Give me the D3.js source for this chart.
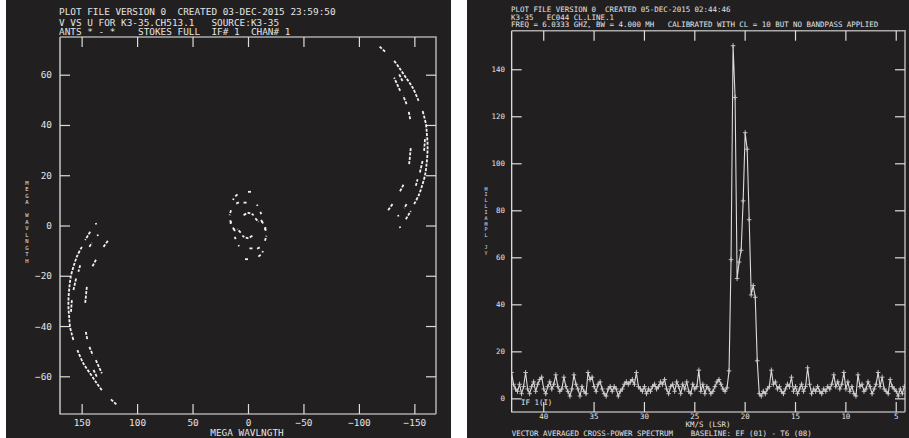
<!DOCTYPE html>
<html><head><meta charset="utf-8">
<script src="https://cdn.jsdelivr.net/npm/d3@7"></script>
<style>
body{margin:0;background:#fff;}
svg{display:block;}
text{font-family:"DejaVu Sans Mono",monospace;fill:#e4e4e4;}
</style></head><body>
<script>
// ---- UV plot data
var uvHeader = ["PLOT FILE VERSION 0  CREATED 03-DEC-2015 23:59:50",
                "V VS U FOR K3-35.CH513.1   SOURCE:K3-35",
                "ANTS * - *    STOKES FULL  IF# 1  CHAN# 1"];
var uvTicksU = [150, 100, 50, 0, -50, -100, -150];
var uvTicksV = [-60, -40, -20, 0, 20, 40, 60];
var uvLabel = "MEGA WAVLNGTH";
// track pieces (u, v in mega-wavelengths); conjugates are drawn too
var uvTracks = [
  [[142.3,-2.5],[146.8,-5.8]],
  [[149.8,-8.5],[154.1,-12.2],[157.4,-16.5],[159.7,-20.2],[161.0,-24.4],[161.7,-28.1],[161.9,-32.4],[161.3,-36.1],[160.4,-40.4],[157.4,-45.6]],
  [[153.8,-49.6],[148.4,-54.9],[142.3,-58.9],[136.3,-62.8],[131.8,-65.5]],
  [[123.6,-69.2],[118.2,-71.4]],
  [[137.2,1.0],[136.8,0.4]],
  [[135.7,-3.6],[135.3,-4.2]],
  [[143.0,-8.5],[140.8,-6.9]],
  [[130.3,-8.5],[125.8,-5.8]],
  [[140.2,-16.2],[136.9,-13.5]],
  [[151.3,-15.8],[152.9,-18.4]],
  [[155.0,-21.1],[157.4,-25.7]],
  [[158.8,-29.7],[159.7,-35.0]],
  [[145.3,-24.4],[146.8,-31.0]],
  [[146.2,-42.3],[144.8,-45.6]],
  [[143.0,-48.3],[139.9,-51.6]],
  [[137.2,-53.6],[131.8,-58.8]],
  [[139.3,-57.5],[136.3,-60.2]],
  // short baselines
  [[0.0,13.4],[-3.0,13.4]],
  [[9.4,12.4],[11.5,11.6]],
  [[13.0,10.7],[13.4,10.1]],
  [[10.6,8.7],[7.6,9.4]],
  [[4.0,9.1],[0.9,9.1]],
  [[-8.1,8.3],[-8.6,7.8]],
  [[15.3,6.1],[16.6,4.1]],
  [[-11.1,5.4],[-12.0,4.5]],
  [[4.0,4.1],[-0.5,5.0],[-5.1,4.1]],
  [[16.0,2.1],[15.3,0.8]],
  [[-12.6,1.8],[-13.5,0.8]],
  [[-6.6,2.8],[-9.6,1.4]],
  [[13.0,-1.2],[11.5,-2.5]],
  [[-15.6,-0.6],[-15.6,-1.9]]
];

// ---- spectrum data
var specHeader = ["PLOT FILE VERSION 0  CREATED 05-DEC-2015 02:44:46",
                  "K3-35   EC044 CL.LINE.1",
                  "FREQ = 6.0333 GHZ, BW = 4.000 MH   CALIBRATED WITH CL = 10 BUT NO BANDPASS APPLIED"];
var specFooter = "VECTOR AVERAGED CROSS-POWER SPECTRUM    BASELINE: EF (01) - T6 (08)";
var specTicksX = [40, 35, 30, 25, 20, 15, 10, 5];
var specTicksY = [0, 20, 40, 60, 80, 100, 120, 140];
var specXLabel = "KM/S (LSR)";
var specYLabel = "MILLIAMPL JY";
var chanVel0 = 43.15, chanStep = -0.2;   // km/s of channel 0, channel width
var specAmp = [
  11,6,4,3,6,2,5,11,4,2, 5,7,3,6,8,9,4,2,5,7,
  4,6,10,5,3,4,9,5,3,1, 4,10,6,4,1,5,3,2,11,8,
  9,5,3,6,7,4,2,1,4,5, 3,5,4,1,3,4,6,7,6,7,
  8,6,11,5,4,3,5,2,4,3, 5,6,4,5,7,6,8,4,2,5,
  6,3,7,5,2,6,4,7,3,2, 6,4,5,12,3,6,2,5,4,2,
  3,5,7,8,6,4,3,4.5,11.7,59, 150,128,51,58,63,84,113,106,76,44,
  48,43,16,2,1,3,2,4,5,12, 6,7,4,5,3,2,4,6,5,9,
  3,5,2,4,6,3,5,13,6,2, 4,3,5,3,2,4,3,5,4,6,
  10,5,7,4,6,11,4,7,3,5, 2,1,10,5,6,3,4,7,5,2,
  4,6,11,5,9,4,3,2,8,5, 4,3,1,4,2,5
];

var W = 909, H = 438, bg = "#221f20", fg = "#e4e4e4";
var svg = d3.select("body").append("svg").attr("width", W).attr("height", H);

svg.append("rect").attr("x", 6).attr("y", 0).attr("width", 445).attr("height", H).attr("fill", bg);
svg.append("rect").attr("x", 467).attr("y", 0).attr("width", 442).attr("height", H).attr("fill", bg);

// letters stacked upright, one under the other
function stacked(g, str, x, y0, pitch, size) {
  str.split("").forEach(function(c, i) {
    if (c === " ") return;
    g.append("text").attr("font-size", size).attr("text-anchor", "middle")
      .attr("x", x).attr("y", y0 + i * pitch).text(c);
  });
}

function frame(g, x0, x1, y0, y1) {
  g.append("path").attr("d", "M" + x0 + "," + y0 + "V" + y1 + "H" + x1)
    .attr("stroke", "#eee").attr("fill", "none").attr("stroke-width", 1.2);
  g.append("path").attr("d", "M" + x0 + "," + y0 + "H" + x1 + "V" + y1)
    .attr("stroke", "#aaa").attr("fill", "none").attr("stroke-width", 1.6);
}

function styleAxis(a, size) {
  a.select(".domain").remove();
  a.selectAll("line").attr("stroke", "#ddd").attr("stroke-width", 1.2);
  a.selectAll("text").attr("font-size", size).attr("fill", fg).attr("font-family", null);
}

// ================= left: UV coverage
(function() {
  var g = svg.append("g");
  var fs = 9.4;
  var x = d3.scaleLinear().domain([169.5, -169.5]).range([60, 436]);
  var y = d3.scaleLinear().domain([-75, 75]).range([414, 37]);

  uvHeader.forEach(function(s, i) {
    g.append("text").attr("x", 59).attr("y", [15, 25.5, 35][i]).attr("font-size", fs)
      .attr("xml:space", "preserve").text(s);
  });

  frame(g, 60, 436, 37, 414);

  styleAxis(g.append("g").attr("transform", "translate(0,414)")
    .call(d3.axisBottom(x).tickValues(uvTicksU).tickSize(-10).tickSizeOuter(0).tickPadding(5)), fs);
  styleAxis(g.append("g").attr("transform", "translate(0,37)")
    .call(d3.axisTop(x).tickValues(uvTicksU).tickSize(-10).tickSizeOuter(0).tickFormat("")), fs);
  styleAxis(g.append("g").attr("transform", "translate(60,0)")
    .call(d3.axisLeft(y).tickValues(uvTicksV).tickSize(-10).tickSizeOuter(0).tickPadding(8)), fs);
  styleAxis(g.append("g").attr("transform", "translate(436,0)")
    .call(d3.axisRight(y).tickValues(uvTicksV).tickSize(-10).tickSizeOuter(0).tickFormat("")), fs);

  g.append("text").attr("x", 247).attr("y", 435.5).attr("font-size", fs)
    .attr("text-anchor", "middle").text(uvLabel);
  stacked(g, uvLabel, 27, 184.5, 6.5, 5.6);

  var line = d3.line().x(function(d) { return x(d[0]); }).y(function(d) { return y(d[1]); })
    .curve(d3.curveCatmullRom);
  var all = [];
  uvTracks.forEach(function(t) {
    all.push(t);
    all.push(t.map(function(p) { return [-p[0], -p[1]]; }));
  });
  g.selectAll("path.trk").data(all).enter().append("path").attr("class", "trk")
    .attr("d", line).attr("fill", "none").attr("stroke", "#f2f2f2")
    .attr("stroke-width", 1.8).attr("stroke-dasharray", "3,1.4");
})();

// ================= right: spectrum
(function() {
  var g = svg.append("g");
  var fs = 7.45;
  var x = d3.scaleLinear().domain([43.13, 4.08]).range([511.7, 905]);
  var y = d3.scaleLinear().domain([-5.8, 156.4]).range([412, 30.7]);

  specHeader.forEach(function(s, i) {
    g.append("text").attr("x", 511).attr("y", [12, 19.5, 27.3][i]).attr("font-size", fs)
      .attr("xml:space", "preserve").text(s);
  });

  frame(g, 511.7, 905, 30.7, 412);

  styleAxis(g.append("g").attr("transform", "translate(0,412)")
    .call(d3.axisBottom(x).tickValues(specTicksX).tickSize(-10).tickSizeOuter(0).tickPadding(1.2)), fs);
  styleAxis(g.append("g").attr("transform", "translate(0,30.7)")
    .call(d3.axisTop(x).tickValues(specTicksX).tickSize(-10).tickSizeOuter(0).tickFormat("")), fs);
  styleAxis(g.append("g").attr("transform", "translate(511.7,0)")
    .call(d3.axisLeft(y).tickValues(specTicksY).tickSize(-10).tickSizeOuter(0).tickPadding(6.7)), fs);
  styleAxis(g.append("g").attr("transform", "translate(905,0)")
    .call(d3.axisRight(y).tickValues(specTicksY).tickSize(-10).tickSizeOuter(0).tickFormat("")), fs);

  g.append("text").attr("x", 708).attr("y", 427.2).attr("font-size", fs)
    .attr("text-anchor", "middle").text(specXLabel);
  g.append("text").attr("x", 511.7).attr("y", 435.6).attr("font-size", fs)
    .attr("xml:space", "preserve").text(specFooter);
  g.append("text").attr("x", 521).attr("y", 405).attr("font-size", fs).text("IF 1(I)");
  stacked(g, specYLabel, 486, 190.5, 5.85, 5.0);

  g.append("clipPath").attr("id", "specclip").append("rect")
    .attr("x", 511.7).attr("y", 30.7).attr("width", 905 - 511.7).attr("height", 412 - 30.7);

  var pts = specAmp.map(function(a, i) { return [chanVel0 + i * chanStep, a]; });
  var pg = g.append("g").attr("clip-path", "url(#specclip)");
  pg.append("path").datum(pts)
    .attr("d", d3.line().x(function(d) { return x(d[0]); }).y(function(d) { return y(d[1]); }))
    .attr("fill", "none").attr("stroke", "#dcdcdc").attr("stroke-width", 1.1);
  pg.selectAll("path.mk").data(pts).enter().append("path").attr("class", "mk")
    .attr("transform", function(d) { return "translate(" + x(d[0]) + "," + y(d[1]) + ")"; })
    .attr("d", "M-2.3,0H2.3M0,-2.6V2.6")
    .attr("stroke", "#cfcfcf").attr("stroke-width", 0.9);
})();
</script>
</body></html>
